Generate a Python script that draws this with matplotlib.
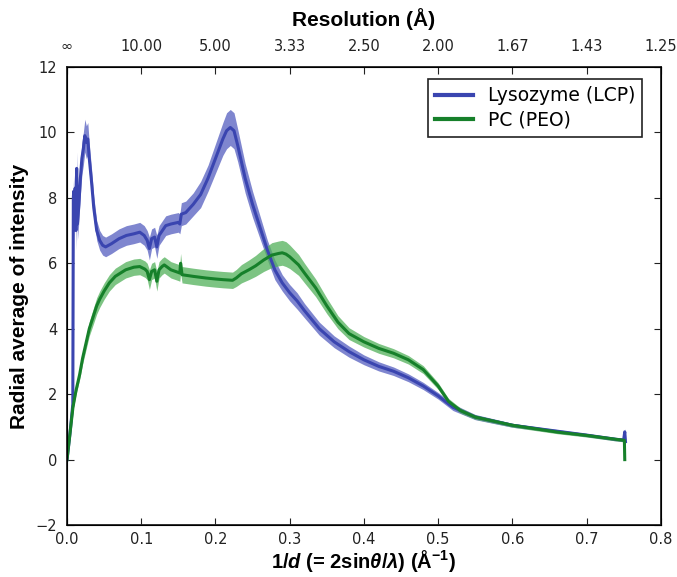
import matplotlib
matplotlib.use("Agg")
import matplotlib.pyplot as plt
import numpy as np

plt.rcParams['mathtext.fontset'] = 'custom'
plt.rcParams['mathtext.rm'] = 'Liberation Sans:bold'
plt.rcParams['mathtext.it'] = 'Liberation Sans:bold:italic'
plt.rcParams['mathtext.bf'] = 'Liberation Sans:bold'

# Lysozyme (LCP)
lys_x = [0.000, 0.004, 0.007, 0.0078, 0.0085, 0.009, 0.010, 0.011, 0.012, 0.013, 0.014, 0.016,
         0.018, 0.020, 0.022, 0.024, 0.026, 0.028, 0.030, 0.033, 0.036, 0.040, 0.044, 0.048,
         0.052, 0.060, 0.070, 0.080, 0.090, 0.098, 0.104, 0.108, 0.111, 0.114, 0.118, 0.121,
         0.124, 0.130, 0.133, 0.140, 0.150, 0.152, 0.154, 0.160, 0.170, 0.180, 0.190, 0.200,
         0.210, 0.215, 0.220, 0.225, 0.230, 0.240, 0.250, 0.260, 0.270, 0.280, 0.290, 0.300,
         0.310, 0.320, 0.340, 0.360, 0.380, 0.400, 0.420, 0.440, 0.460, 0.480, 0.500, 0.520,
         0.550, 0.580, 0.600, 0.650, 0.700, 0.740, 0.750, 0.7515, 0.7525]
lys_y = [0.0, 0.8, 1.5, 1.7, 8.0, 8.2, 7.4, 8.3, 7.0, 8.9, 7.2, 7.8,
         8.6, 9.2, 9.5, 9.9, 9.7, 9.8, 9.2, 8.5, 7.7, 7.0, 6.7, 6.55,
         6.5, 6.6, 6.75, 6.85, 6.9, 6.95, 6.85, 6.7, 6.45, 6.75, 6.8, 6.5,
         6.85, 7.05, 7.15, 7.2, 7.25, 7.2, 7.5, 7.55, 7.8, 8.1, 8.6, 9.2,
         9.8, 10.05, 10.15, 10.05, 9.6, 8.6, 7.8, 7.1, 6.4, 5.8, 5.4, 5.1,
         4.85, 4.55, 4.0, 3.6, 3.3, 3.05, 2.85, 2.7, 2.5, 2.25, 1.95, 1.6,
         1.3, 1.15, 1.05, 0.9, 0.75, 0.62, 0.6, 0.85, 0.55]
lys_err = [0.05, 0.1, 0.15, 0.2, 0.4, 0.5, 0.6, 0.5, 0.6, 0.5, 0.5, 0.5,
           0.5, 0.5, 0.5, 0.5, 0.5, 0.5, 0.45, 0.4, 0.35, 0.3, 0.3, 0.3,
           0.3, 0.3, 0.3, 0.3, 0.3, 0.3, 0.3, 0.3, 0.35, 0.3, 0.3, 0.35,
           0.3, 0.3, 0.3, 0.3, 0.3, 0.3, 0.35, 0.35, 0.35, 0.4, 0.4, 0.45,
           0.5, 0.55, 0.55, 0.55, 0.5, 0.45, 0.4, 0.35, 0.3, 0.3, 0.25, 0.25,
           0.25, 0.22, 0.2, 0.18, 0.17, 0.15, 0.14, 0.13, 0.12, 0.11, 0.1, 0.1,
           0.08, 0.07, 0.06, 0.05, 0.05, 0.05, 0.05, 0.1, 0.05]

# PC (PEO)
pc_x = [0.000, 0.004, 0.008, 0.012, 0.017, 0.021, 0.026, 0.030, 0.035, 0.040, 0.044, 0.050,
        0.057, 0.065, 0.079, 0.090, 0.098, 0.105, 0.108, 0.111, 0.114, 0.118, 0.121, 0.124,
        0.128, 0.131, 0.140, 0.150, 0.152, 0.153, 0.155, 0.170, 0.187, 0.200, 0.210, 0.223,
        0.228, 0.235, 0.245, 0.254, 0.265, 0.276, 0.285, 0.290, 0.295, 0.300, 0.312, 0.320,
        0.335, 0.350, 0.365, 0.380, 0.400, 0.420, 0.440, 0.460, 0.480, 0.500, 0.514, 0.530,
        0.550, 0.580, 0.600, 0.661, 0.700, 0.740, 0.751, 0.7515]
pc_y = [0.0, 0.8, 1.6, 2.1, 2.6, 3.1, 3.6, 4.0, 4.35, 4.7, 4.9, 5.15,
        5.4, 5.6, 5.8, 5.88, 5.9, 5.82, 5.75, 5.5, 5.75, 5.8, 5.45, 5.8,
        5.9, 5.95, 5.8, 5.72, 5.7, 6.0, 5.65, 5.6, 5.55, 5.52, 5.5, 5.48,
        5.55, 5.68, 5.8, 5.92, 6.1, 6.25, 6.3, 6.32, 6.28, 6.2, 5.95, 5.7,
        5.25, 4.7, 4.2, 3.85, 3.6, 3.4, 3.25, 3.05, 2.75, 2.25, 1.78, 1.5,
        1.3, 1.15, 1.05, 0.84, 0.74, 0.62, 0.59, 0.0]
pc_err = [0.05, 0.08, 0.1, 0.12, 0.15, 0.18, 0.2, 0.22, 0.24, 0.25, 0.25, 0.25,
          0.25, 0.25, 0.25, 0.25, 0.25, 0.25, 0.25, 0.3, 0.25, 0.25, 0.3, 0.25,
          0.25, 0.25, 0.25, 0.25, 0.25, 0.3, 0.25, 0.25, 0.25, 0.25, 0.25, 0.25,
          0.26, 0.28, 0.3, 0.32, 0.35, 0.38, 0.38, 0.38, 0.38, 0.36, 0.32, 0.3,
          0.27, 0.24, 0.2, 0.18, 0.16, 0.15, 0.14, 0.13, 0.12, 0.1, 0.09, 0.08,
          0.07, 0.06, 0.06, 0.05, 0.05, 0.05, 0.05, 0.05]

top_ticks = [0.0, 0.1, 0.2, 0.3, 0.4, 0.5, 0.6, 0.7, 0.8]
top_labels = ['\u221e', '10.00', '5.00', '3.33', '2.50', '2.00', '1.67', '1.43', '1.25']

blue_line = '#3a45b0'
blue_fill = '#5b64c2'
green_line = '#16802a'
green_fill = '#52b05a'

fig = plt.figure(figsize=(6.77, 5.77), dpi=100)
ax = fig.add_axes([0.099, 0.090, 0.877, 0.794])

lx, ly, le = np.array(lys_x), np.array(lys_y), np.array(lys_err)
px, py, pe = np.array(pc_x), np.array(pc_y), np.array(pc_err)

ax.fill_between(lx, ly - le, ly + le, color=blue_fill, alpha=0.78, lw=0)
ax.plot(lx, ly, color=blue_line, lw=2.2, label='Lysozyme (LCP)')
ax.fill_between(px, py - pe, py + pe, color=green_fill, alpha=0.75, lw=0)
ax.plot(px, py, color=green_line, lw=2.2, label='PC (PEO)')

ax.set_xlim(0, 0.8)
ax.set_ylim(-2, 12)
ax.set_xticks(top_ticks)
ax.set_yticks([-2, 0, 2, 4, 6, 8, 10, 12])
ax.tick_params(direction='in', top=False, right=True, labelsize=10.5, length=5, width=0.8,
               colors='#222222', labelcolor='#222222')
ax.tick_params(axis='x', pad=5)
ax.tick_params(axis='y', pad=7)
for s in ax.spines.values():
    s.set_linewidth(1.3)
    s.set_color('#222222')

ax2 = ax.twiny()
ax2.set_xlim(ax.get_xlim())
ax2.set_xticks(top_ticks)
ax2.set_xticklabels(top_labels)
ax2.tick_params(direction='in', labelsize=10.5, length=5, width=0.8, colors='#222222',
                labelcolor='#222222', pad=9)

ax.set_xlabel(r'1/$d$ (= 2sin$\theta$/$\lambda$) (Å$^{-1}$)', fontsize=14.5,
              fontweight='bold', family='Liberation Sans', labelpad=1)
ax.set_ylabel('Radial average of intensity', fontsize=15, fontweight='bold',
              family='Liberation Sans', labelpad=5)
ax2.set_xlabel('Resolution (Å)', fontsize=15, fontweight='bold',
               family='Liberation Sans', labelpad=10)

leg = ax.legend(loc='upper right', fontsize=13.5, fancybox=False, framealpha=1,
                edgecolor='#222222', handlelength=2.0, borderpad=0.4, labelspacing=0.3,
                bbox_to_anchor=(0.985, 0.995))
leg.get_frame().set_linewidth(1.2)
for h in leg.get_lines():
    h.set_linewidth(3)

fig.savefig('out.png', dpi=100)
